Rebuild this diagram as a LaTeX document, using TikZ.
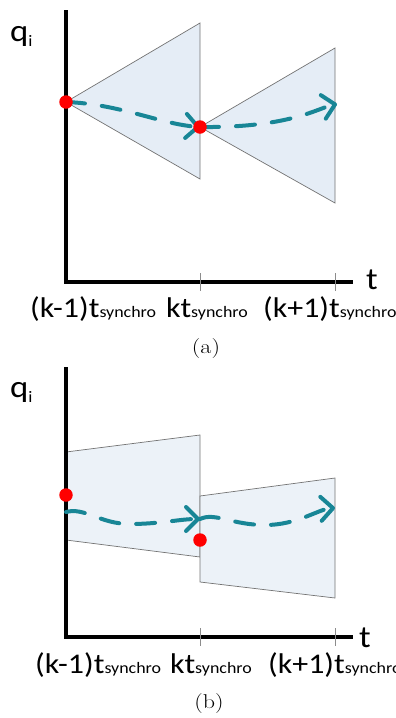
\documentclass[tikz,border=0pt]{standalone}
\usepackage{fontspec}
\newfontfamily\calfont{Carlito}
\usetikzlibrary{arrows.meta}
\definecolor{trajc}{RGB}{24,134,150}
\definecolor{conef}{RGB}{229,237,246}
\definecolor{boxf}{RGB}{236,242,248}
\newcommand{\wide}[1]{\scalebox{1.12}[1]{#1}}
\newcommand{\tsyn}{t{\fontsize{16}{18}\selectfont synchro}}
\tikzset{
  axisln/.style={line width=3.5pt,black},
  tickln/.style={black!45,line width=0.9pt},
  cone/.style={draw=black!55,line width=0.7pt,fill=conef},
  bandbox/.style={draw=black!55,line width=0.7pt,fill=boxf},
  traj/.style={trajc,line width=4pt,line cap=round,dash pattern=on 19pt off 17pt,
    -{Straight Barb[length=12pt,width=24pt,round]}},
  rdot/.style={circle,fill=red,inner sep=0pt,minimum size=13.5pt},
  tlbl/.style={font=\calfont\fontsize{28.5}{32}\selectfont,anchor=base west,inner sep=0pt},
  axlbl/.style={font=\calfont\fontsize{31}{34}\selectfont,anchor=base west,inner sep=0pt},
  caplbl/.style={font=\fontsize{20}{24}\selectfont,anchor=base,inner sep=0pt},
}
\begin{document}
\begin{tikzpicture}[x=1pt,y=-1pt]
  \useasboundingbox (0,0) rectangle (396,718);
  % (a)
  \coordinate (a1) at (66,102);
  \coordinate (a2) at (200,127);
  \coordinate (a3) at (337,104);
  \draw[cone] (a1) -- (200,23) -- (200,179) -- cycle;
  \draw[cone] (a2) -- (335,48) -- (335,203) -- cycle;
  \draw[axisln] (66,10) -- (66,282) -- (353,282);
  \foreach \x in {200,335} \draw[tickln] (\x,273) -- (\x,291);
  \draw[traj] (a1) .. controls (120,104) and (160,124) .. (a2);
  \draw[traj] (a2) .. controls (290,128) and (318,108) .. (a3);
  \node[rdot] (da1) at (a1) {};
  \node[rdot] (da2) at (a2) {};
  \node[axlbl] (qa) at (10,41) {\wide{q\raisebox{-5pt}{\fontsize{16}{18}\selectfont i}}};
  \node[axlbl] (ta) at (366,289) {\wide{t}};
  \node[tlbl] (la1) at (30,317) {\wide{(k-1)\tsyn}};
  \node[tlbl] (la2) at (166,317) {\wide{k\tsyn}};
  \node[tlbl] (la3) at (263,317) {\wide{(k+1)\tsyn}};
  \node[caplbl] (capa) at (206,353) {\scalebox{1.2}[1]{(a)}};
  % (b)
  \coordinate (b1) at (66,512);
  \coordinate (b2) at (200,519);
  \coordinate (b3) at (335,508);
  \draw[bandbox] (66,452) -- (200,435) -- (200,557) -- (66,540) -- cycle;
  \draw[bandbox] (200,496) -- (335,478) -- (335,598) -- (200,582) -- cycle;
  \draw[axisln] (66,367) -- (66,637) -- (353,637);
  \foreach \x in {200,335} \draw[tickln] (\x,628) -- (\x,646);
  \draw[traj] (b1) .. controls (85,507) and (100,524) .. (130,524)
    .. controls (160,524) and (180,519) .. (b2);
  \draw[traj] (b2) .. controls (215,512) and (232,525) .. (265,525)
    .. controls (298,525) and (318,509) .. (b3);
  \node[rdot] (db1) at (66,495) {};
  \node[rdot] (db2) at (200,540) {};
  \node[axlbl] (qb) at (10,397) {\wide{q\raisebox{-5pt}{\fontsize{16}{18}\selectfont i}}};
  \node[axlbl] (tb) at (359,647) {\wide{t}};
  \node[tlbl] (lb1) at (35,673) {\wide{(k-1)\tsyn}};
  \node[tlbl] (lb2) at (170,673) {\wide{k\tsyn}};
  \node[tlbl] (lb3) at (268,673) {\wide{(k+1)\tsyn}};
  \node[caplbl] (capb) at (209,708) {\scalebox{1.2}[1]{(b)}};
\end{tikzpicture}
\end{document}
